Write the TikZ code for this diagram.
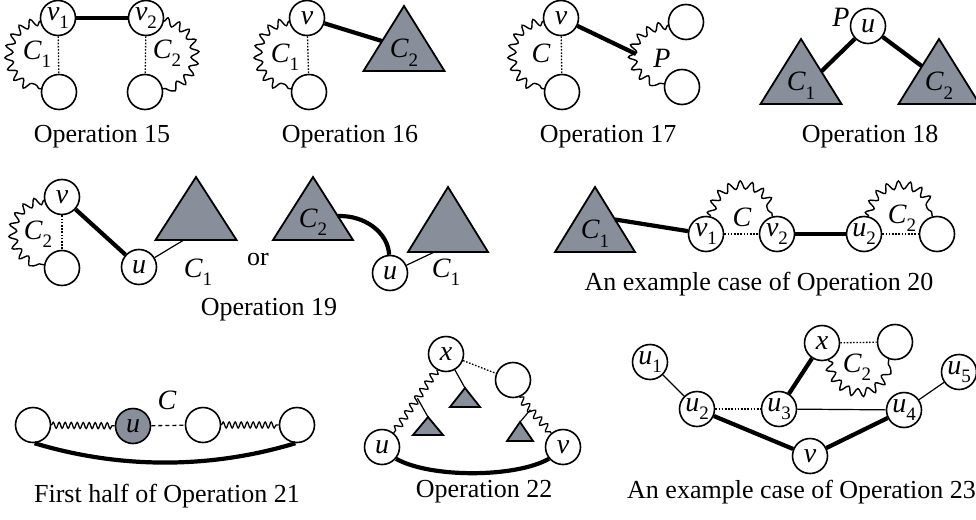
\documentclass[tikz,border=0pt]{standalone}
\usepackage{fontspec}
\setmainfont{Liberation Serif}
\usetikzlibrary{decorations.pathmorphing, calc, positioning}
\definecolor{trigray}{RGB}{137,142,155}
\newcommand{\labfont}{\fontsize{28}{30}\selectfont}
\newcommand{\capfont}{\fontsize{26}{30}\selectfont}
\newcommand{\isub}[2]{\textit{#1}\raisebox{-0.3em}{\fontsize{19}{19}\selectfont #2}}
\tikzstyle{vnode} = [circle, draw, line width=1.6pt, fill=white, minimum size=35pt, inner sep=0pt, font=\labfont]
\tikzstyle{gnode} = [vnode, fill=trigray]
\tikzstyle{heavy} = [draw, line width=4.2pt]
\tikzstyle{plain} = [draw, line width=1.2pt]
\tikzstyle{dotline} = [draw, line width=1.3pt, dash pattern=on 1.6pt off 1.6pt]
\tikzstyle{dashline} = [draw, line width=1.3pt, dash pattern=on 4pt off 3pt]
\tikzstyle{wave} = [draw, line width=1.4pt, decorate, decoration={snake, amplitude=4pt, segment length=11pt}]
\tikzstyle{coil} = [draw, line width=1.3pt, decorate, decoration={snake, amplitude=3pt, segment length=6pt}]
\tikzstyle{coilb} = [draw, line width=1.3pt, decorate, decoration={snake, amplitude=3.5pt, segment length=9pt}]
\tikzstyle{trifill} = [draw, line width=1.8pt, fill=trigray]
\tikzstyle{lab} = [inner sep=0pt, font=\labfont]
\tikzstyle{caption} = [anchor=base, inner sep=0pt, font=\capfont]
% triangle: name, apex, half base, height, label
\newcommand{\tri}[5]{%
  \draw[trifill] (#2) coordinate (#1a) -- ++(-#3,#4) coordinate (#1l) -- ++(2*#3,0) coordinate (#1r) -- cycle;
  \node[lab] (#1) at ($(#1a)+(0,0.72*#4)$) {#5};}

\begin{document}
\begin{tikzpicture}[x=1pt, y=-1pt]
\useasboundingbox (0,0) rectangle (976,519);

% Operation 15
\node [vnode] (a1) at (58,18) {\isub{v}{1}};
\node [vnode] (a2) at (146,18) {\isub{v}{2}};
\node [vnode] (a3) at (59,92) {};
\node [vnode] (a4) at (145,92) {};
\draw [heavy] (a1) -- (a2);
\draw [dotline] (a1) -- (a3);
\draw [dotline] (a2) -- (a4);
\draw [wave] (a1.190) .. controls (2,28) and (2,82) .. (a3.170);
\draw [wave] (a2.350) .. controls (202,28) and (202,82) .. (a4.10);
\node [lab] (c15a) at (37,54) {\isub{C}{1}};
\node [lab] (c15b) at (167,53) {\isub{C}{2}};
\node [caption] (op15) at (102,142) {Operation 15};

% Operation 16
\node [vnode] (b1) at (307,18) {\textit{v}};
\node [vnode] (b2) at (309,92) {};
\tri{t16}{404,6}{40.5}{65}{\isub{C}{2}}
\coordinate (s16) at ($(t16a)!0.54!(t16l)$);
\draw [heavy] (b1) -- (s16);
\draw [dotline] (b1) -- (b2);
\draw [wave] (b1.190) .. controls (251,28) and (251,82) .. (b2.170);
\node [lab] (c16) at (285,57) {\isub{C}{1}};
\node [caption] (op16) at (350,142) {Operation 16};

% Operation 17
\node [vnode] (d1) at (561,18) {\textit{v}};
\node [vnode] (d2) at (562,92) {};
\node [vnode] (d3) at (686,22) {};
\node [vnode] (d4) at (682,87) {};
\coordinate (p17) at (636,54);
\draw [wave] (d3.190) .. controls (626,30) and (624,78) .. (d4.170);
\draw [heavy] (d1) -- (p17);
\draw [dotline] (d1) -- (d2);
\draw [wave] (d1.190) .. controls (505,28) and (505,82) .. (d2.170);
\node [lab] (c17) at (541,53) {\textit{C}};
\node [lab] (p17lab) at (662,58) {\textit{P}};
\node [caption] (op17) at (608,142) {Operation 17};

% Operation 18
\node [vnode] (e1) at (868,26) {\textit{u}};
\node [lab] (p18) at (841,17) {\textit{P}};
\tri{t18a}{801,39}{40.5}{65}{\isub{C}{1}}
\tri{t18b}{939,39}{40.5}{65}{\isub{C}{2}}
\coordinate (s18a) at ($(t18aa)!0.5!(t18ar)$);
\coordinate (s18b) at ($(t18ba)!0.42!(t18bl)$);
\draw [heavy] (e1) -- (s18a);
\draw [heavy] (e1) -- (s18b);
\node [caption] (op18) at (870,142) {Operation 18};

% Operation 19
\node [vnode] (f1) at (62,197) {\textit{v}};
\node [vnode] (f2) at (62,268) {};
\node [vnode] (f3) at (139,267) {\textit{u}};
\tri{t19a}{196,177}{40.5}{63}{}
\coordinate (s19a) at ($(t19al)!0.35!(t19ar)$);
\draw [plain] (f3) -- (s19a);
\draw [heavy] (f1) -- (f3);
\draw [dotline] (f1) -- (f2);
\draw [wave] (f1.190) .. controls (6,207) and (6,258) .. (f2.170);
\node [lab] (c19a) at (38,234) {\isub{C}{2}};
\node [lab] (c19b) at (198,272) {\isub{C}{1}};
\node [caption] (or19) at (258,265) {or};
\tri{t19b}{313,177}{40}{63}{\isub{C}{2}}
\node [vnode] (f4) at (390,273) {\textit{u}};
\tri{t19c}{448,187}{40}{65}{}
\coordinate (s19b) at ($(t19ba)!0.62!(t19br)$);
\draw [heavy] (s19b) .. controls (364,215) and (388,232) .. (f4);
\coordinate (s19c) at ($(t19cl)!0.33!(t19cr)$);
\draw [plain] (f4) -- (s19c);
\node [lab] (c19c) at (446,272) {\isub{C}{1}};
\node [caption] (op19) at (269,315) {Operation 19};

% Operation 20
\tri{t20}{595,187}{40}{65}{\isub{C}{1}}
\node [vnode] (g1) at (706,234) {\isub{v}{1}};
\node [vnode] (g2) at (777,234) {\isub{v}{2}};
\node [vnode] (g3) at (864,234) {\isub{u}{2}};
\node [vnode] (g4) at (937,234) {};
\coordinate (s20) at ($(t20a)!0.5!(t20r)$);
\draw [heavy] (s20) -- (g1);
\draw [dotline] (g1) -- (g2);
\draw [heavy] (g2) -- (g3);
\draw [dotline] (g3) -- (g4);
\draw [wave] (g1.75) .. controls (716,178) and (767,178) .. (g2.105);
\draw [wave] (g3.75) .. controls (874,178) and (927,178) .. (g4.105);
\node [lab] (c20a) at (742,217) {\textit{C}};
\node [lab] (c20b) at (902,218) {\isub{C}{2}};
\node [caption] (op20) at (759,290) {An example case of Operation 20};

% Operation 21
\node [vnode] (h1) at (33,425) {};
\node [gnode] (h2) at (133,426) {\textit{u}};
\node [vnode] (h3) at (203,425) {};
\node [vnode] (h4) at (297,425) {};
\draw [coil] (h1) -- (h2);
\draw [dashline] (h2) -- (h3);
\draw [coil] (h3) -- (h4);
\draw [heavy] (h1.275) .. controls (120,469) and (210,469) .. (h4.265);
\node [lab] (c21) at (167,400) {\textit{C}};
\node [caption] (op21) at (167,502) {First half of Operation 21};

% Operation 22
\node [vnode] (k1) at (446,354) {\textit{x}};
\node [vnode] (k2) at (513,380) {};
\node [vnode] (k3) at (382,447) {\textit{u}};
\node [vnode] (k4) at (563,447) {\textit{v}};
\draw [dotline] (k1) -- (k2);
\draw [coilb] (k1.240) -- (k3.50);
\draw [coilb] (k2.290) -- (k4.130);
\path (k1.240) -- coordinate[pos=0.45] (m22a) (k3.50);
\path (k2.290) -- coordinate[pos=0.35] (m22b) (k4.130);
\tri{t22a}{465,388}{15}{19}{}
\tri{t22b}{428,417}{15}{18}{}
\tri{t22c}{520,422}{13}{19}{}
\draw [plain] (k1) -- (t22aa);
\draw [plain] (m22a) -- (t22ba);
\draw [plain] (m22b) -- (t22ca);
\draw [heavy] (k3.320) .. controls (430,478) and (515,478) .. (k4.220);
\node [caption] (op22) at (484,497) {Operation 22};

% Operation 23
\node [vnode] (n1) at (650,362) {\isub{u}{1}};
\node [vnode] (n2) at (697,409) {\isub{u}{2}};
\node [vnode] (n3) at (779,409) {\isub{u}{3}};
\node [vnode] (n4) at (904,410) {\isub{u}{4}};
\node [vnode] (n5) at (959,372) {\isub{u}{5}};
\node [vnode] (n6) at (822,343) {\textit{x}};
\node [vnode] (n7) at (895,342) {};
\node [vnode] (n8) at (810,456) {\textit{v}};
\draw [plain] (n1) -- (n2);
\draw [dotline] (n2) -- (n3);
\draw [plain] (n3) -- (n4);
\draw [plain] (n4) -- (n5);
\draw [heavy] (n3) -- (n6);
\draw [dotline] (n6) -- (n7);
\draw [heavy] (n2) -- (n8);
\draw [heavy] (n8) -- (n4);
\draw [wave] (n6.290) .. controls (835,400) and (885,400) .. (n7.250);
\node [lab] (c23) at (857,367) {\isub{C}{2}};
\node [caption, anchor=base west] (op23) at (627,498) {An example case of Operation 23};
\end{tikzpicture}
\end{document}
